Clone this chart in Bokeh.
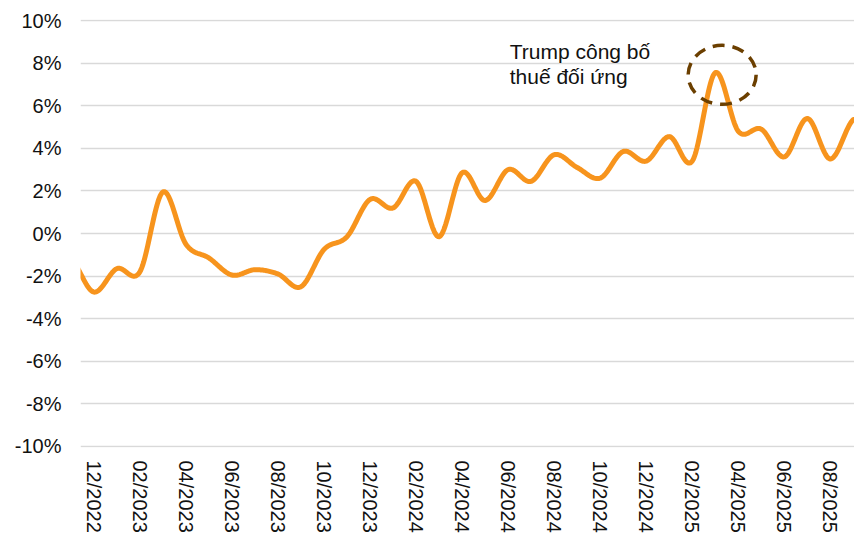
import numpy as np
from bokeh.plotting import figure
from bokeh.models import FixedTicker, Label, Range1d
from bokeh.embed import file_html
from bokeh.resources import INLINE

# Monthly values (% y/y); first month only partly visible at the left edge
months = ["11/2022", "12/2022",
          "01/2023", "02/2023", "03/2023", "04/2023", "05/2023", "06/2023",
          "07/2023", "08/2023", "09/2023", "10/2023", "11/2023", "12/2023",
          "01/2024", "02/2024", "03/2024", "04/2024", "05/2024", "06/2024",
          "07/2024", "08/2024", "09/2024", "10/2024", "11/2024", "12/2024",
          "01/2025", "02/2025", "03/2025", "04/2025", "05/2025", "06/2025",
          "07/2025", "08/2025", "09/2025"]
values = [-1.2, -2.75,
          -1.65, -1.8, 1.95, -0.5, -1.15, -1.95,
          -1.7, -1.9, -2.5, -0.75, -0.15, 1.6,
          1.2, 2.45, -0.15, 2.85, 1.55, 3.0,
          2.45, 3.7, 3.1, 2.6, 3.85, 3.4,
          4.55, 3.4, 7.55, 4.8, 4.9, 3.6,
          5.4, 3.5, 5.35]
y_ticks = [-10, -8, -6, -4, -2, 0, 2, 4, 6, 8, 10]
y_tick_labels = ["-10%", "-8%", "-6%", "-4%", "-2%", "0%", "2%", "4%", "6%", "8%", "10%"]
annotation_lines = ["Trump công bố", "thuế đối ứng"]

FONT = "Liberation Sans"
ORANGE = "#F7941D"
BROWN = "#6B3F00"

x = np.arange(len(values), dtype=float)
y = np.array(values, dtype=float)

# Smooth curve through the points (Catmull-Rom, like a spreadsheet "smoothed line")
def catmull_rom(xs, ys, n=24):
    px = np.concatenate([[2 * xs[0] - xs[1]], xs, [2 * xs[-1] - xs[-2]]])
    py = np.concatenate([[ys[0]], ys, [ys[-1]]])
    out_x, out_y = [], []
    t = np.linspace(0, 1, n, endpoint=False)
    for i in range(1, len(px) - 2):
        for arr, out in ((px, out_x), (py, out_y)):
            p0, p1, p2, p3 = arr[i - 1], arr[i], arr[i + 1], arr[i + 2]
            out.extend(0.5 * ((2 * p1) + (-p0 + p2) * t
                              + (2 * p0 - 5 * p1 + 4 * p2 - p3) * t ** 2
                              + (-p0 + 3 * p1 - 3 * p2 + p3) * t ** 3))
    out_x.append(xs[-1])
    out_y.append(ys[-1])
    return np.array(out_x), np.array(out_y)

sx, sy = catmull_rom(x, y)

p = figure(width=854, height=536, output_backend="svg", toolbar_location=None,
           x_range=Range1d(0.42, 34.05), y_range=Range1d(-10.05, 10.05),
           min_border_left=80, min_border_right=0, min_border_top=19,
           min_border_bottom=89)
p.outline_line_color = None
p.background_fill_color = "white"
p.border_fill_color = "white"

p.line(sx, sy, line_color=ORANGE, line_width=5, line_join="round", line_cap="round")

# x axis: every second month labelled, starting at 12/2022
tick_idx = list(range(1, len(months), 2))
p.xaxis.ticker = FixedTicker(ticks=tick_idx)
p.xaxis.major_label_overrides = {i: months[i] for i in tick_idx}
p.xaxis.major_label_orientation = "vertical"
p.xaxis.major_label_standoff = 13

p.yaxis.ticker = FixedTicker(ticks=y_ticks)
p.yaxis.major_label_overrides = dict(zip(y_ticks, y_tick_labels))
p.yaxis.major_label_standoff = 19

for ax in (p.xaxis, p.yaxis):
    ax.axis_line_color = None
    ax.major_tick_line_color = None
    ax.minor_tick_line_color = None
    ax.major_tick_out = 0
    ax.major_tick_in = 0
    ax.minor_tick_out = 0
    ax.minor_tick_in = 0
    ax.major_label_text_font = FONT
    ax.major_label_text_font_size = "20px"
    ax.major_label_text_color = "#111111"

p.xgrid.grid_line_color = None
p.ygrid.grid_line_color = "#D9D9D9"
p.ygrid.grid_line_width = 1.5

# Annotation around the peak
peak = int(np.argmax(y))
p.ellipse(x=[x[peak] + 0.3], y=[y[peak] - 0.1], width=68, height=59,
          width_units="screen", height_units="screen",
          fill_alpha=0, line_color=BROWN, line_width=3.5, line_dash="12 8")

for k, txt in enumerate(annotation_lines):
    p.add_layout(Label(x=x[peak] - 8.93, y=8.54 - 1.17 * k, text=txt,
                       text_font=FONT, text_font_size="21px",
                       text_color="#111111", text_baseline="alphabetic"))

open("out.html", "w").write(file_html(p, INLINE))
